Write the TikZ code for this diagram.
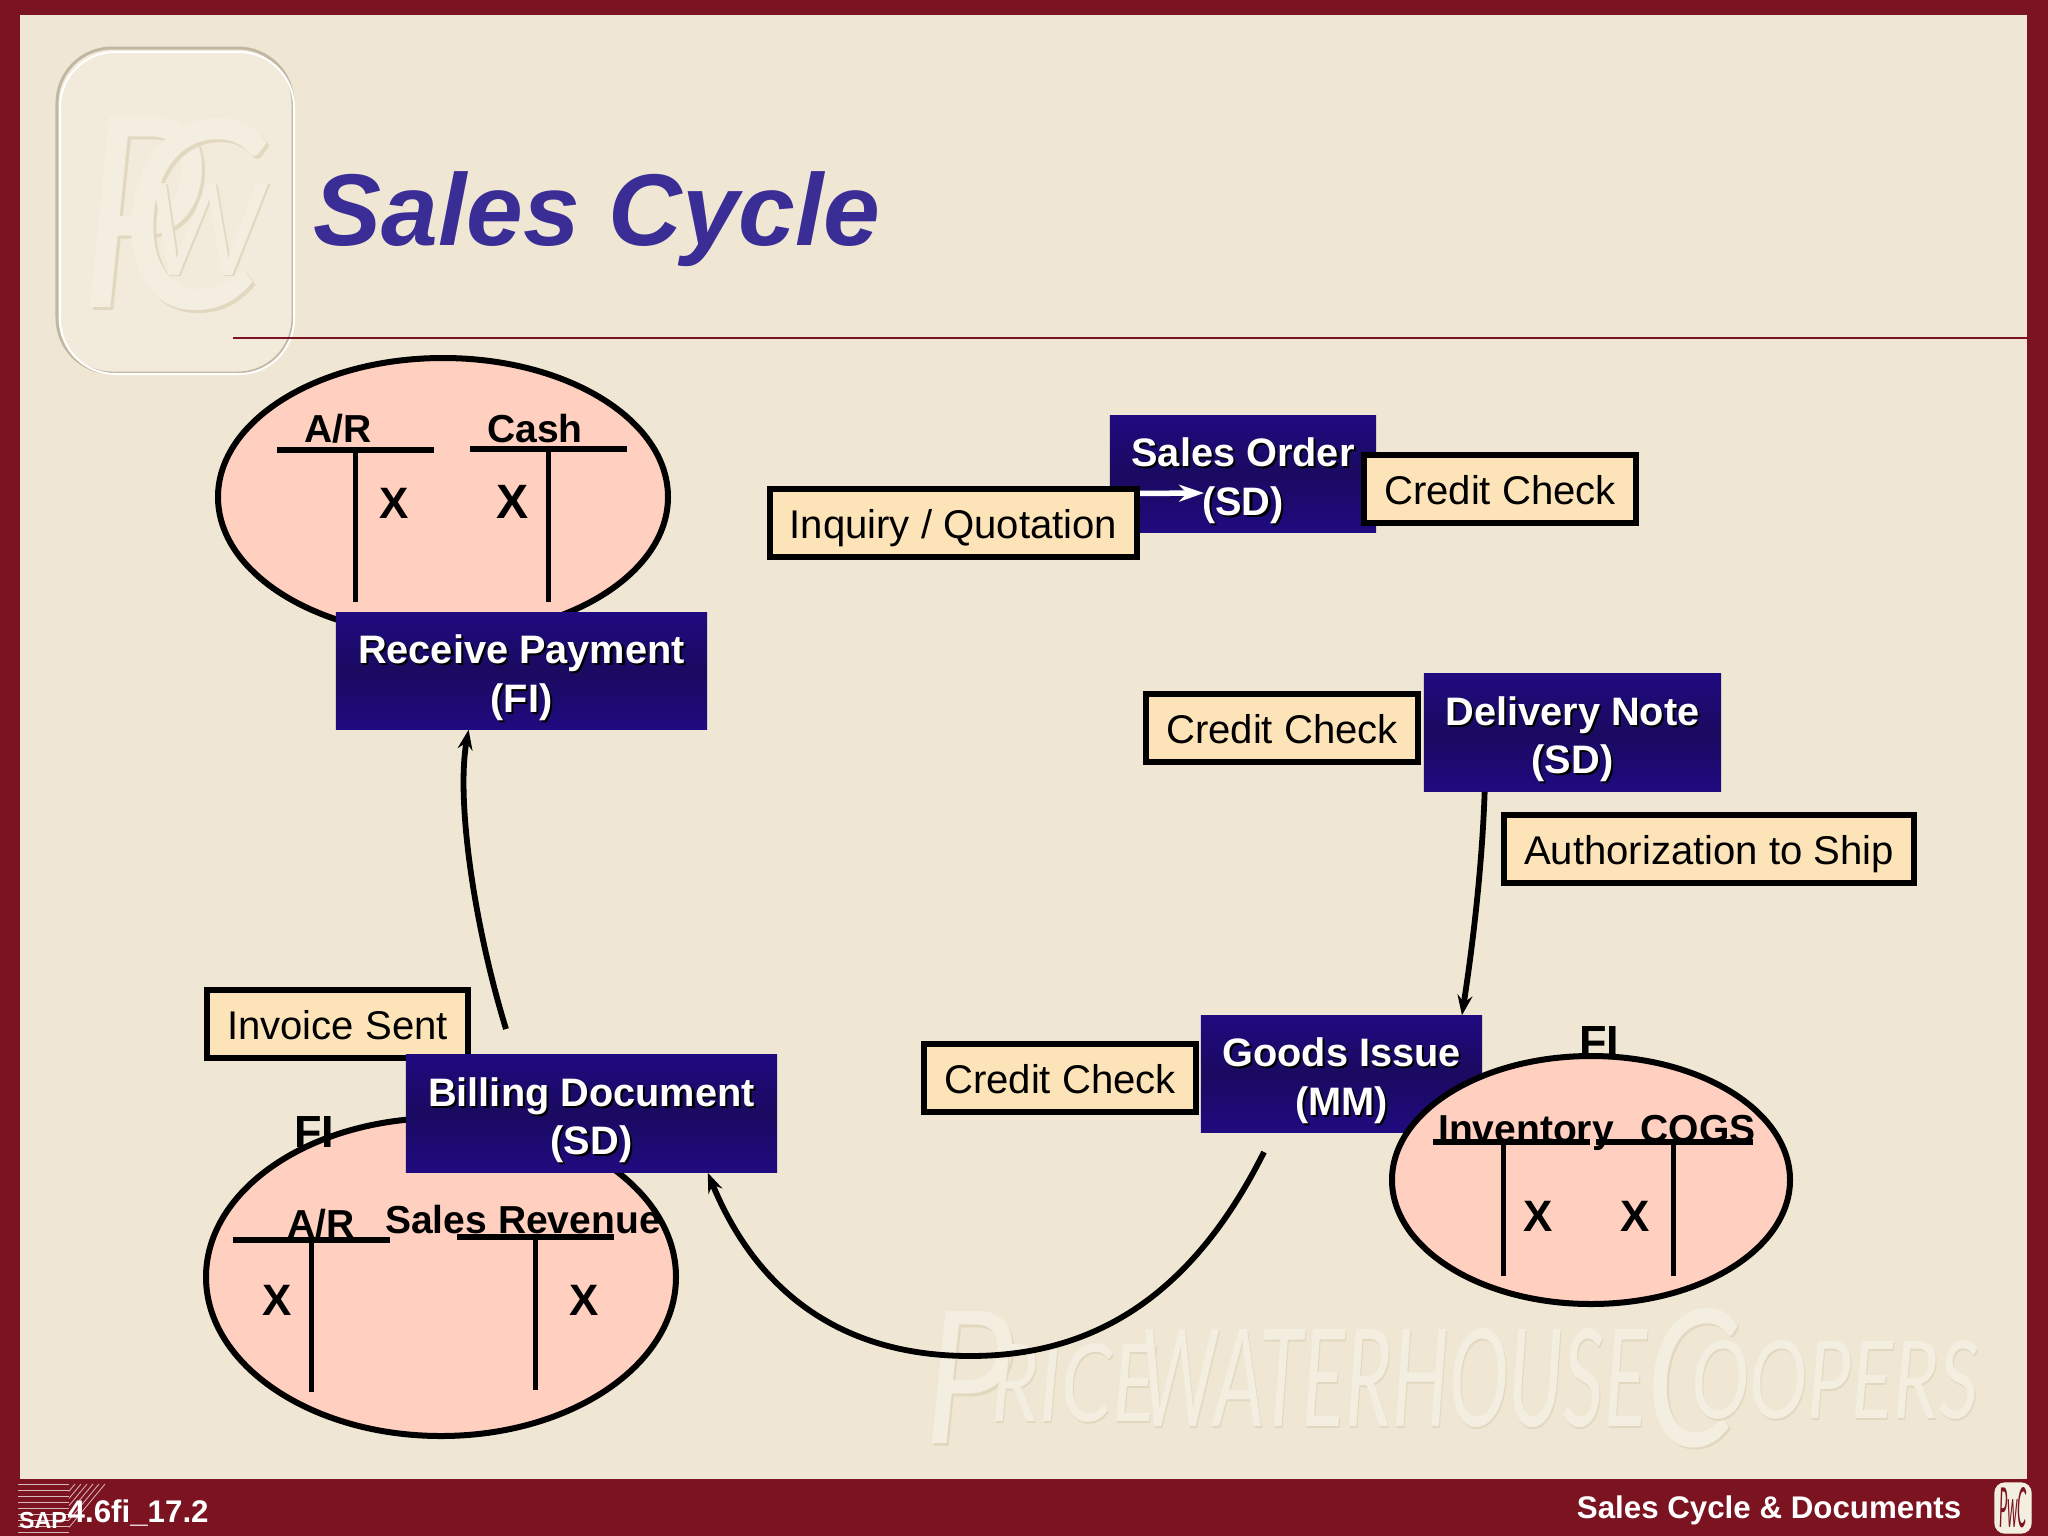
\documentclass[tikz,border=0pt]{standalone}
\usepackage{fontspec}
\setmainfont{Liberation Sans}
\newfontfamily\wmfont{Lato}
\usepackage{xcolor}
\usetikzlibrary{arrows.meta,calc,positioning}
\definecolor{myframe}{RGB}{123, 20, 32}
\definecolor{mypage}{RGB}{239, 231, 211}
\definecolor{mynavy}{RGB}{32, 10, 128}
\definecolor{mynavyd}{RGB}{26, 10, 96}
\definecolor{mytan}{RGB}{253, 227, 184}
\definecolor{mypink}{RGB}{255, 208, 192}
\definecolor{mytitle}{RGB}{58, 46, 150}
\definecolor{mylight}{RGB}{244, 238, 225}
\definecolor{myshade}{RGB}{226, 216, 192}
\newcommand{\shtxt}[1]{\leavevmode\raisebox{-2.2pt}[\height][\depth]{\rlap{\kern.6pt\raisebox{-.6pt}{\textcolor{black}{#1}}}#1}}
\newcommand{\emboss}[1]{\leavevmode\rlap{\kern.12pt\raisebox{-.12pt}{\textcolor{myshade}{#1}}}\textcolor{mylight}{#1}}
\tikzset{
	DocBox/.style={inner sep=0pt, top color=mynavy, bottom color=mynavy, middle color=mynavyd, text=white, align=center, font=\fontsize{11.3}{13.7}\selectfont\bfseries},
	NoteBox/.style={draw=black, line width=0.06cm, fill=mytan, inner sep=0pt, minimum height=0.68cm, text height=9pt, text depth=0pt, font=\fontsize{11.4}{13.7}\selectfont},
	Account/.style={draw=black, line width=0.06cm, fill=mypink},
	Ledger/.style={draw=black, line width=0.06cm},
	Stem/.style={draw=black, line width=0.05cm},
	Head/.style={inner sep=0pt, font=\fontsize{11.1}{13}\selectfont\bfseries},
	Mark/.style={inner sep=0pt, font=\fontsize{12.5}{14}\selectfont\bfseries},
	Flow/.style={draw=black, line width=0.058cm, -{Stealth[length=0.2cm, width=0.15cm, inset=0.07cm]}},
	Foot/.style={inner sep=0pt, text=white, font=\fontsize{8.9}{10}\selectfont\bfseries},
	Mist/.style={inner sep=0pt, font=\wmfont\itshape}
}

\begin{document}
\begin{tikzpicture}[x=0.01cm, y=-0.01cm]
	\useasboundingbox (0,0) rectangle (2048,1536);
	\fill[myframe] (0,0) rectangle (2048,1536);
	\fill[mypage] (20,15) rectangle (2027,1479);

	\draw[myshade!85!black, line width=0.03cm, rounded corners=0.55cm, fill=mylight!60!mypage] (57,48) rectangle (293,373);
	\draw[white, line width=0.02cm, rounded corners=0.55cm] (60,52) rectangle (294,374);
	\node (logop) [Mist] at (142,214) {\resizebox{1.24cm}{1.9cm}{\emboss{P}}};
	\node (logoc) [Mist] at (193,216) {\resizebox{1.44cm}{1.9cm}{\emboss{C}}};
	\node (logow) [Mist] at (206,230) {\resizebox{1.18cm}{0.92cm}{\emboss{W}}};
	\node (markp) [Mist] at (969,1379) {\resizebox{0.89cm}{1.32cm}{\emboss{P}}};
	\node (markrice) [Mist] at (1074,1384) {\resizebox{1.64cm}{0.78cm}{\emboss{RICE}}};
	\node (markwater) [Mist] at (1394,1379) {\resizebox{5.06cm}{0.98cm}{\emboss{WATERHOUSE}}};
	\node (markc) [Mist] at (1692,1379) {\resizebox{0.9cm}{1.38cm}{\emboss{C}}};
	\node (markoopers) [Mist] at (1835,1381) {\resizebox{2.87cm}{0.78cm}{\emboss{OOPERS}}};

	\node (title) [inner sep=0pt, anchor=base west, text=mytitle, font=\fontsize{29}{32}\selectfont\bfseries\itshape] at (313,245) {Sales Cycle};
	\draw[myframe, line width=0.025cm] (233,338) -- (2027,338);

	\draw[Account] (443,497) ellipse (225 and 139);
	\node (arhead) [Head] at (338,429) {A/R};
	\node (cashhead) [Head] at (535,429) {Cash};
	\draw[Ledger] (277,450) -- (434,450);
	\draw[Ledger] (470,449) -- (627,449);
	\draw[Stem] (355,450) -- (355,602);
	\draw[Stem] (548,449) -- (548,602);
	\node (arx) [Mark] at (394,503) {X};
	\node (cashx) [Mark, font=\fontsize{13.7}{15}\selectfont\bfseries] at (513,502) {X};
	\node (receivepayment) [DocBox, minimum width=3.71cm, minimum height=1.16cm] at (521.5,671) {\shtxt{Receive Payment}\\\shtxt{(FI)}};

	\node (salesorder) [DocBox, minimum width=2.66cm, minimum height=1.16cm] at (1243,474) {\shtxt{Sales Order}\\\shtxt{(SD)}};
	\node (inquiry) [NoteBox, minimum width=3.67cm] at (953.5,523) {Inquiry / Quotation};
	\node (creditone) [NoteBox, minimum width=2.72cm] at (1500,489) {Credit Check};
	\coordinate (orderend) at (1204,493);
	\draw[white, line width=0.055cm, -{Stealth[length=0.25cm, width=0.17cm, inset=0.08cm]}] (inquiry.9) -- (orderend);

	\node (deliverynote) [DocBox, minimum width=2.97cm, minimum height=1.17cm] at (1572.5,732.5) {\shtxt{Delivery Note}\\\shtxt{(SD)}};
	\node (credittwo) [NoteBox, minimum width=2.72cm] at (1282,728) {Credit Check};
	\node (authorization) [NoteBox, minimum width=4.10cm] at (1709,849) {Authorization to Ship};

	\node (goodsissue) [DocBox, minimum width=2.81cm, minimum height=1.16cm] at (1341.5,1074) {\shtxt{Goods Issue}\\\shtxt{(MM)}};
	\node (creditthree) [NoteBox, minimum width=2.72cm] at (1060,1078) {Credit Check};
	\draw[Flow] (deliverynote.214) .. controls (1482,870) and (1472,950) .. (goodsissue.26);

	\draw[Account] (1591,1180) ellipse (199 and 124);
	\node (inventoryhead) [Head] at (1526,1133) {Inventory};
	\node (cogshead) [Head] at (1698,1129) {COGS};
	\draw[Ledger] (1433,1142) -- (1590,1142);
	\draw[Ledger] (1596,1142) -- (1753,1142);
	\draw[Stem] (1503,1142) -- (1503,1276);
	\draw[Stem] (1673,1142) -- (1673,1276);
	\node (inventoryx) [Mark] at (1538,1216) {X};
	\node (cogsx) [Mark] at (1635,1216) {X};
	\node (firight) [Head, font=\fontsize{12.8}{14}\selectfont\bfseries] at (1599,1042) {FI};

	\draw[Account] (441,1277) ellipse (235 and 159);
	\node (fileft) [Head, font=\fontsize{12.8}{14}\selectfont\bfseries] at (314,1132) {FI};
	\node (arheadtwo) [Head] at (321,1224) {A/R};
	\node (revenuehead) [Head] at (523,1220) {Sales Revenue};
	\draw[Ledger] (233,1240) -- (390,1240);
	\draw[Ledger] (457,1237) -- (614,1237);
	\draw[Stem] (311,1240) -- (311,1392);
	\draw[Stem] (535,1237) -- (535,1390);
	\node (arxtwo) [Mark] at (277,1300) {X};
	\node (revenuex) [Mark] at (584,1300) {X};

	\node (invoice) [NoteBox, minimum width=2.61cm] at (337.5,1024) {Invoice Sent};
	\node (billingdoc) [DocBox, minimum width=3.71cm, minimum height=1.17cm] at (591.5,1113.5) {\shtxt{Billing Document}\\\shtxt{(SD)}};

	\coordinate (billingout) at (506,1029);
	\coordinate (goodsout) at (1264,1152);
	\draw[Flow] (billingout) .. controls (474,925) and (456,800) .. (receivepayment.228);
	\draw[Flow] (goodsout) .. controls (1190,1300) and (1090,1356) .. (970,1356) .. controls (850,1356) and (760,1300) .. (billingdoc.333.7);

	\foreach \y in {1484,1490,...,1532}
		\draw[white!70!myframe, line width=0.008cm] (18,\y) -- (69,\y);
	\foreach \x in {75,81,...,108}
		\draw[white!70!myframe, line width=0.008cm] (\x,1484) -- (69,{1484+(\x-69)*47/39});
	\node (saplogo) [Foot, font=\fontsize{6.6}{8}\selectfont\bfseries] at (43,1520) {SAP};
	\node (slideid) [Foot, anchor=west] at (67,1513) {4.6fi\_17.2};
	\node (footer) [Foot, anchor=east] at (1962,1510) {Sales Cycle \& Documents};
	\draw[mylight, fill=mylight, rounded corners=0.1cm] (1995,1483) rectangle (2031,1533);
	\node (logosmall) [inner sep=0pt, text=myframe, font=\wmfont\itshape] at (2013,1508) {\resizebox{0.28cm}{0.4cm}{PwC}};
\end{tikzpicture}
\end{document}
